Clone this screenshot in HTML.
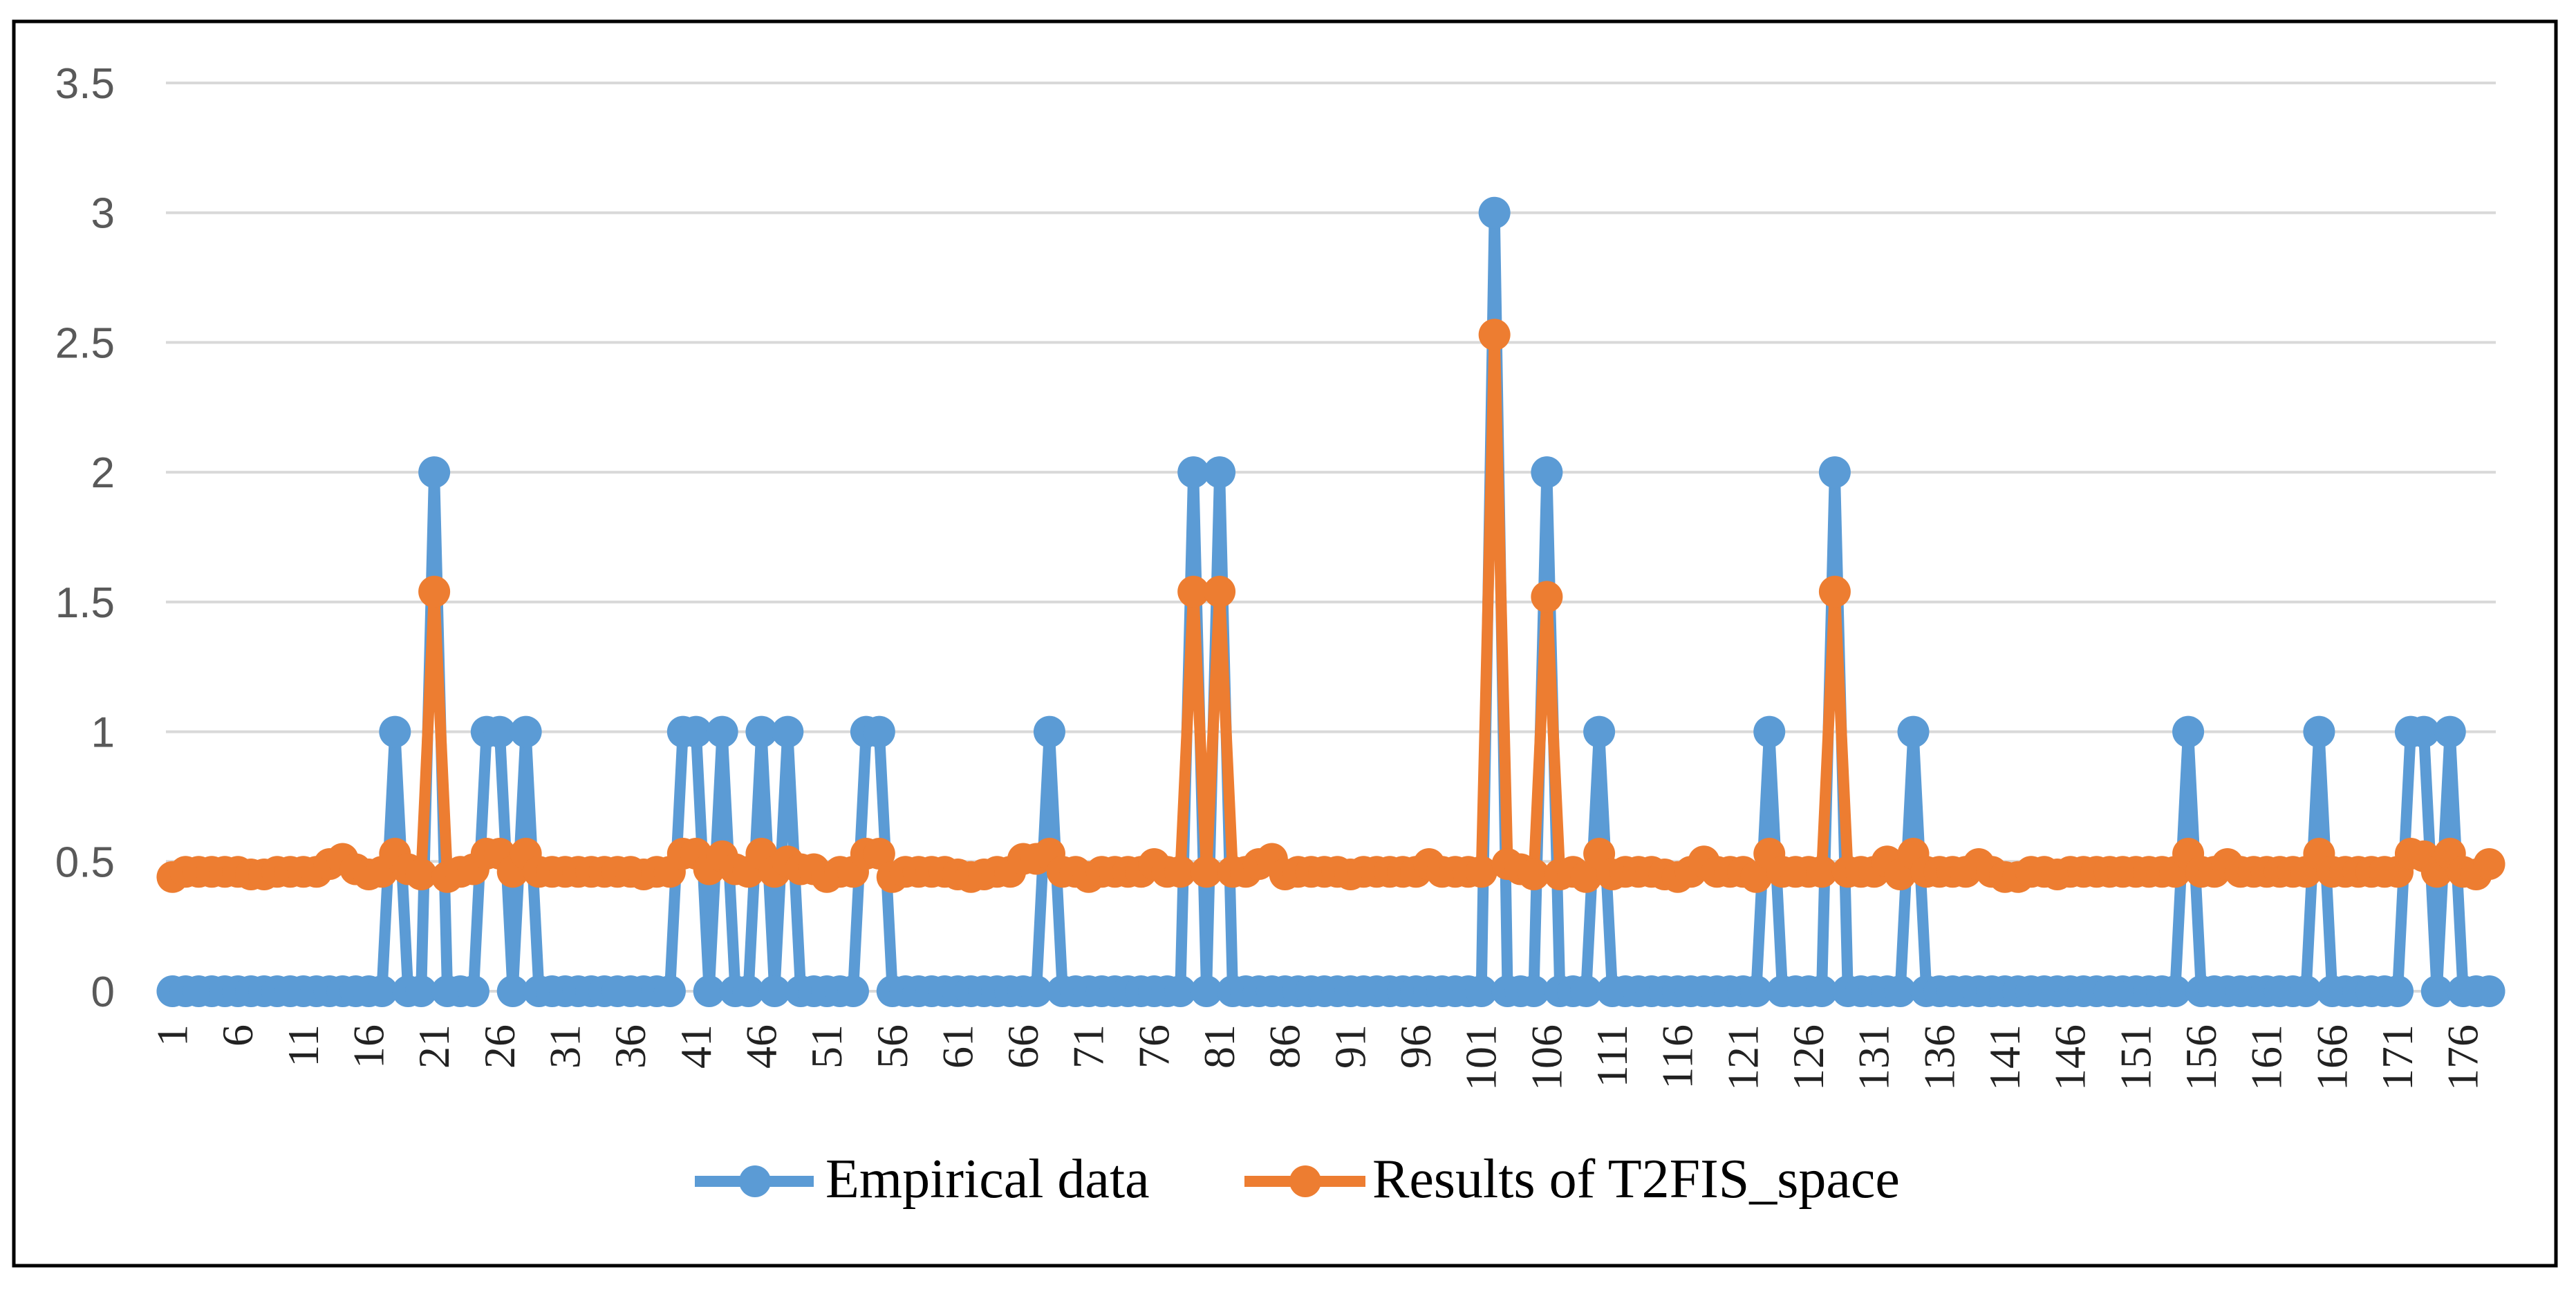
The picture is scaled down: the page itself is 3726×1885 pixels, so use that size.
<!DOCTYPE html>
<html><head><meta charset="utf-8"><style>
html,body{margin:0;padding:0;background:#fff;}
svg{display:block;}
</style></head><body>
<svg id="chart" width="3726" height="1885" viewBox="0 0 3726 1885" xmlns="http://www.w3.org/2000/svg">
<rect x="20" y="31" width="3677" height="1800" fill="#fff" stroke="#000" stroke-width="5"/>
<g id="grid"></g>
<g id="ylabels"></g>
<g id="xlabels"></g>
<g id="series"></g>
<g>
  <g>
    <line x1="1005" y1="1709" x2="1177" y2="1709" stroke="#5b9bd5" stroke-width="16"/>
    <circle cx="1092" cy="1709" r="23" fill="#5b9bd5"/>
    <text x="1194" y="1732" font-family="Liberation Serif, serif" font-size="80" fill="#000">Empirical data</text>
  </g>
  <g>
    <line x1="1800" y1="1709" x2="1975" y2="1709" stroke="#ed7d31" stroke-width="16"/>
    <circle cx="1888" cy="1709" r="23" fill="#ed7d31"/>
    <text x="1985" y="1732" font-family="Liberation Serif, serif" font-size="80" fill="#000">Results of T2FIS_space</text>
  </g>
</g>
</svg>
<script>
const yTicks = [0, 0.5, 1, 1.5, 2, 2.5, 3, 3.5];
const yTickLabels = ["0", "0.5", "1", "1.5", "2", "2.5", "3", "3.5"];
const empirical = [
0,0,0,0,0,0,0,0,0,0,
0,0,0,0,0,0,0,1,0,0,
2,0,0,0,1,1,0,1,0,0,
0,0,0,0,0,0,0,0,0,1,
1,0,1,0,0,1,0,1,0,0,
0,0,0,1,1,0,0,0,0,0,
0,0,0,0,0,0,0,1,0,0,
0,0,0,0,0,0,0,0,2,0,
2,0,0,0,0,0,0,0,0,0,
0,0,0,0,0,0,0,0,0,0,
0,3,0,0,0,2,0,0,0,1,
0,0,0,0,0,0,0,0,0,0,
0,0,1,0,0,0,0,2,0,0,
0,0,0,1,0,0,0,0,0,0,
0,0,0,0,0,0,0,0,0,0,
0,0,0,0,1,0,0,0,0,0,
0,0,0,0,1,0,0,0,0,0,
0,1,1,0,1,0,0,0];
const t2fis = [
.44,.46,.46,.46,.46,.46,.45,.45,.46,.46,
.46,.46,.49,.51,.47,.45,.46,.53,.47,.45,
1.54,.44,.46,.47,.53,.53,.46,.53,.46,.46,
.46,.46,.46,.46,.46,.46,.45,.46,.46,.53,
.53,.47,.52,.47,.46,.53,.46,.50,.47,.47,
.44,.46,.46,.53,.53,.44,.46,.46,.46,.46,
.45,.44,.45,.46,.46,.51,.51,.53,.46,.46,
.44,.46,.46,.46,.46,.49,.46,.46,1.54,.46,
1.54,.46,.46,.49,.51,.45,.46,.46,.46,.46,
.45,.46,.46,.46,.46,.46,.49,.46,.46,.46,
.46,2.53,.49,.47,.45,1.52,.45,.46,.44,.53,
.45,.46,.46,.46,.45,.44,.46,.50,.46,.46,
.46,.44,.53,.46,.46,.46,.46,1.54,.46,.46,
.46,.50,.45,.53,.46,.46,.46,.46,.49,.46,
.44,.44,.46,.46,.45,.46,.46,.46,.46,.46,
.46,.46,.46,.46,.53,.46,.46,.49,.46,.46,
.46,.46,.46,.46,.53,.46,.46,.46,.46,.46,
.46,.53,.52,.46,.53,.46,.45,.49];
const categories = empirical.map((_, i) => i + 1);

const NS = "http://www.w3.org/2000/svg";
const plotL = 240, plotR = 3610, y0 = 1434, yTop = 120, yMax = 3.5;
const step = (plotR - plotL) / categories.length;
function xPos(i) { return plotL + step * (i + 0.5); }
function yPos(v) { return y0 - v / yMax * (y0 - yTop); }
function mk(tag, attrs, parent) {
  const el = document.createElementNS(NS, tag);
  for (const k in attrs) el.setAttribute(k, attrs[k]);
  parent.appendChild(el);
  return el;
}
const grid = document.getElementById('grid');
const ylab = document.getElementById('ylabels');
yTicks.forEach((t, i) => {
  const l = mk('line', {x1: plotL, x2: plotR, y1: yPos(t), y2: yPos(t), stroke: '#d9d9d9', 'stroke-width': 4}, grid);
  
  
  const tx = mk('text', {x: 166, y: yPos(t) + 22, 'text-anchor': 'end', 'font-family': 'Liberation Sans, sans-serif', 'font-size': 62, fill: '#595959'}, ylab);
  tx.textContent = yTickLabels[i];
  
  
});
const xlab = document.getElementById('xlabels');
categories.forEach((c, i) => {
  if (i % 5 !== 0) return;
  const x = xPos(i) + 21, y = 1482;
  const tx = mk('text', {x: x, y: y, 'text-anchor': 'end', transform: `rotate(-90 ${x} ${y})`, 'font-family': 'Liberation Serif, serif', 'font-size': 64, fill: '#222'}, xlab);
  tx.textContent = String(c);
  
  
});
const series = document.getElementById('series');
function drawSeries(vals, color, name) {
  const g = mk('g', {}, series);
  
  
  const pts = vals.map((v, i) => xPos(i).toFixed(1) + ',' + yPos(v).toFixed(1)).join(' ');
  const pl = mk('polyline', {points: pts, fill: 'none', stroke: color, 'stroke-width': 16, 'stroke-linejoin': 'round'}, g);
  
  
  vals.forEach((v, i) => {
    const c = mk('circle', {cx: xPos(i), cy: yPos(v), r: 23, fill: color}, g);
    
    
  });
}
drawSeries(empirical, '#5b9bd5', 'empirical-series');
drawSeries(t2fis, '#ed7d31', 't2fis-series');
</script>
</body></html>
